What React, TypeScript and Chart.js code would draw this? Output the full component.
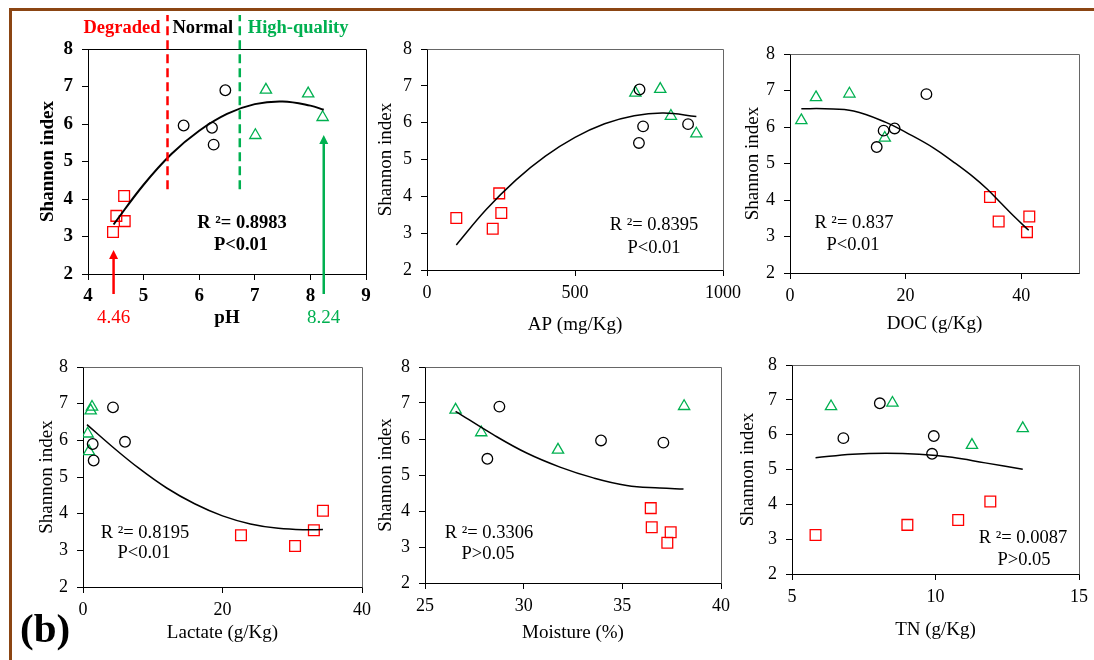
import React, { useEffect, useRef } from "react";
import { Chart, registerables } from "chart.js";

Chart.register(...registerables);

// ---------------- data ----------------
const shannonDegraded = [3.12, 3.41, 3.55, 4.08];
const shannonNormal = [5.45, 5.9, 5.96, 6.9];
const shannonHigh = [5.7, 6.18, 6.81, 6.91];

const phDegraded = [4.45, 4.66, 4.51, 4.65];
const phNormal = [6.26, 6.23, 5.72, 6.47];
const phHigh = [7.01, 8.22, 7.96, 7.2];
const phFitX = [4.46, 5.0, 5.5, 6.0, 6.5, 7.0, 7.5, 8.0, 8.24];
const phFitY = [3.32, 4.38, 5.2, 5.82, 6.27, 6.53, 6.6, 6.49, 6.38];

const apDegraded = [222, 99, 251, 244];
const apNormal = [716, 730, 882, 718];
const apHigh = [910, 824, 704, 788];
const apFitX = [99, 200, 300, 400, 500, 600, 700, 800, 910];
const apFitY = [2.68, 3.64, 4.44, 5.09, 5.6, 5.97, 6.19, 6.26, 6.17];

const docDegraded = [41.0, 36.1, 41.4, 34.6];
const docNormal = [15.0, 16.2, 18.1, 23.6];
const docHigh = [16.4, 1.96, 4.5, 10.28];
const docFitX = [1.96, 6, 11, 16.7, 20.2, 24.8, 28.3, 31.8, 34.1, 36.4, 38.7, 41.3];
const docFitY = [6.5, 6.5, 6.44, 6.12, 5.84, 5.43, 5.04, 4.62, 4.3, 3.93, 3.56, 3.17];

const lactateDegraded = [30.4, 22.65, 33.1, 34.4];
const lactateNormal = [1.53, 1.39, 6.02, 4.3];
const lactateHigh = [0.86, 0.67, 1.1, 1.29];
const lactateFitX = [0.57, 4, 8, 12, 16, 20, 24, 28, 32, 34.4];
const lactateFitY = [6.43, 5.86, 5.24, 4.7, 4.27, 3.94, 3.72, 3.6, 3.56, 3.57];

const moistureDegraded = [37.28, 37.45, 36.49, 36.44];
const moistureNormal = [28.16, 37.08, 33.92, 28.77];
const moistureHigh = [31.74, 27.85, 26.55, 38.13];
const moistureFitX = [26.55, 28.46, 30.15, 31.84, 33.53, 35.22, 36.9, 38.1];
const moistureFitY = [6.77, 6.12, 5.61, 5.22, 4.92, 4.71, 4.64, 4.61];

const tnDegraded = [5.82, 9.02, 10.79, 11.91];
const tnNormal = [9.88, 6.79, 9.94, 8.06];
const tnHigh = [11.27, 13.04, 6.36, 8.5];
const tnFitX = [5.82, 7.11, 8.27, 9.43, 10.58, 11.73, 13.04];
const tnFitY = [5.34, 5.44, 5.47, 5.44, 5.35, 5.19, 5.01];

const xTitles = ["pH", "AP (mg/Kg)", "DOC (g/Kg)", "Lactate (g/Kg)", "Moisture (%)", "TN (g/Kg)"];
const yTitle = "Shannon index";
const r2Labels = ["R \u00B2= 0.8983", "R \u00B2= 0.8395", "R \u00B2= 0.837", "R \u00B2= 0.8195", "R \u00B2= 0.3306", "R \u00B2= 0.0087"];
const pLabels = ["P<0.01", "P<0.01", "P<0.01", "P<0.01", "P>0.05", "P>0.05"];
const xMins = [4, 0, 0, 0, 25, 5];
const xMaxs = [9, 1000, 50, 40, 40, 15];
const xSteps = [1, 500, 20, 20, 5, 5];
const yMin = 2;
const yMax = 8;
const yStep = 1;

const zoneLabels = ["Degraded", "Normal", "High-quality"];
const phThresholds = [5.43, 6.73];
const phThresholdBottom = 4.26;
const phArrowValues = [4.46, 8.24];
const phArrowLabels = ["4.46", "8.24"];
const phArrowTips = [2.64, 5.71];
const panelTag = "(b)";

// ---------------- styles / layout ----------------
const SERIF = '"Liberation Serif", "Times New Roman", Times, serif';
const RED = "#FF0000";
const GREEN = "#00B050";
const BROWN = "#8B4513";

type Rect = { l: number; t: number; r: number; b: number };
type PanelCfg = {
  idx: number;
  deg: number[];
  nor: number[];
  high: number[];
  fitX: number[];
  fitY: number[];
  rect: Rect;
  yTitleX: number;
  xTitleY: number;
  r2At: [number, number];
  pAt: [number, number];
  bold: boolean;
  frame: string;
  fitWidth: number;
};

const panels: PanelCfg[] = [
  { idx: 0, deg: phDegraded, nor: phNormal, high: phHigh, fitX: phFitX, fitY: phFitY,
    rect: { l: 88, t: 49, r: 366, b: 274 }, yTitleX: 47.7, xTitleY: 318, r2At: [154, 174], pAt: [153, 196],
    bold: true, frame: "#000", fitWidth: 2 },
  { idx: 1, deg: apDegraded, nor: apNormal, high: apHigh, fitX: apFitX, fitY: apFitY,
    rect: { l: 427, t: 49, r: 723, b: 270 }, yTitleX: 386, xTitleY: 325, r2At: [227, 176], pAt: [227, 199],
    bold: false, frame: "#666", fitWidth: 1.5 },
  { idx: 2, deg: docDegraded, nor: docNormal, high: docHigh, fitX: docFitX, fitY: docFitY,
    rect: { l: 790, t: 54, r: 1079, b: 273 }, yTitleX: 753.3, xTitleY: 324, r2At: [64, 169], pAt: [63, 191],
    bold: false, frame: "#666", fitWidth: 1.5 },
  { idx: 3, deg: lactateDegraded, nor: lactateNormal, high: lactateHigh, fitX: lactateFitX, fitY: lactateFitY,
    rect: { l: 83, t: 367, r: 362, b: 587 }, yTitleX: 46.7, xTitleY: 633, r2At: [62, 166], pAt: [61, 186],
    bold: false, frame: "#666", fitWidth: 1.5 },
  { idx: 4, deg: moistureDegraded, nor: moistureNormal, high: moistureHigh, fitX: moistureFitX, fitY: moistureFitY,
    rect: { l: 425, t: 367, r: 721, b: 583 }, yTitleX: 386, xTitleY: 632.7, r2At: [64, 166], pAt: [63, 187],
    bold: false, frame: "#666", fitWidth: 1.5 },
  { idx: 5, deg: tnDegraded, nor: tnNormal, high: tnHigh, fitX: tnFitX, fitY: tnFitY,
    rect: { l: 792, t: 365, r: 1081, b: 574 }, yTitleX: 748.3, xTitleY: 630, r2At: [231, 173], pAt: [232, 195],
    bold: false, frame: "#666", fitWidth: 1.5 },
];

function pts(xs: number[], ys: number[]) {
  return xs.map((x, i) => ({ x, y: ys[i] }));
}

function PanelChart({ p }: { p: PanelCfg }) {
  const ref = useRef<HTMLCanvasElement | null>(null);
  const titleSize = 19;
  const tickSize = p.bold ? 19 : 18;
  const lhT = titleSize * 1.2;
  const cl = Math.floor(p.yTitleX - lhT / 2) - 4;
  const ct = p.idx === 0 ? 0 : p.rect.t - 20;
  const cr = Math.min(p.rect.r + 25, 1094);
  const cb = Math.ceil(p.xTitleY + lhT / 2) + 4;
  const w = cr - cl;
  const h = cb - ct;
  const padL = p.yTitleX - lhT / 2 - cl;
  const yW = p.rect.l - cl - padL;
  const padT = p.rect.t - ct;
  const padR = cr - p.rect.r;
  const xH = p.xTitleY + lhT / 2 - p.rect.b;
  const padB = cb - (p.xTitleY + lhT / 2);

  useEffect(() => {
    if (!ref.current) return;
    const weight = p.bold ? "bold" : "normal";
    const tickFont = { family: SERIF, size: tickSize, weight: weight as any };
    const titleFont = { family: SERIF, size: titleSize, weight: weight as any };

    const decor = {
      id: "decor" + p.idx,
      beforeDatasetsDraw(chart: any) {
        const { left, top, right, bottom } = chart.chartArea;
        const a = (v: number) => Math.round(v - 0.5) + 0.5;
        const ctx = chart.ctx;
        ctx.save();
        ctx.strokeStyle = p.frame;
        ctx.lineWidth = 1;
        ctx.beginPath();
        ctx.moveTo(a(left), a(top));
        ctx.lineTo(a(right), a(top));
        ctx.lineTo(a(right), a(bottom));
        ctx.stroke();
        ctx.restore();
      },
      afterDraw(chart: any) {
        const { left, top, bottom } = chart.chartArea;
        const ctx = chart.ctx;
        const xs = chart.scales.x;
        const ys = chart.scales.y;
        ctx.save();
        ctx.fillStyle = "#000";
        ctx.textAlign = "center";
        ctx.textBaseline = "middle";
        ctx.font = `${weight} 18.5px ${SERIF}`;
        ctx.fillText(r2Labels[p.idx], left + p.r2At[0], top + p.r2At[1]);
        ctx.fillText(pLabels[p.idx], left + p.pAt[0], top + p.pAt[1]);

        if (p.idx === 0) {
          const colors = [RED, GREEN];
          phThresholds.forEach((v, i) => {
            const px = xs.getPixelForValue(v);
            ctx.beginPath();
            ctx.setLineDash([9, 5]);
            ctx.lineWidth = 2.5;
            ctx.strokeStyle = colors[i];
            ctx.moveTo(px, ys.getPixelForValue(phThresholdBottom));
            ctx.lineTo(px, top - 34);
            ctx.stroke();
          });
          ctx.setLineDash([]);
          const x0 = xs.getPixelForValue(phThresholds[0]);
          const x1 = xs.getPixelForValue(phThresholds[1]);
          ctx.font = `bold 18.5px ${SERIF}`;
          ctx.textAlign = "right";
          ctx.fillStyle = RED;
          ctx.fillText(zoneLabels[0], x0 - 7, top - 21);
          ctx.textAlign = "left";
          ctx.fillStyle = "#000";
          ctx.fillText(zoneLabels[1], x0 + 5, top - 21);
          ctx.fillStyle = GREEN;
          ctx.fillText(zoneLabels[2], x1 + 8, top - 21);
          phArrowValues.forEach((v, i) => {
            const px = xs.getPixelForValue(v);
            const tip = ys.getPixelForValue(phArrowTips[i]);
            const base = bottom + 20;
            ctx.strokeStyle = colors[i];
            ctx.fillStyle = colors[i];
            ctx.lineWidth = 2.5;
            ctx.beginPath();
            ctx.moveTo(px, base);
            ctx.lineTo(px, tip + 6);
            ctx.stroke();
            ctx.beginPath();
            ctx.moveTo(px, tip);
            ctx.lineTo(px - 4.5, tip + 9);
            ctx.lineTo(px + 4.5, tip + 9);
            ctx.closePath();
            ctx.fill();
            ctx.font = `normal 19px ${SERIF}`;
            ctx.textAlign = "center";
            ctx.fillText(phArrowLabels[i], px, bottom + 44);
          });
        }
        ctx.restore();
      },
    };

    const chart = new Chart(ref.current, {
      type: "scatter",
      data: {
        datasets: [
          {
            label: "fit",
            data: pts(p.fitX, p.fitY),
            showLine: true,
            pointRadius: 0,
            borderColor: "#000",
            borderWidth: p.fitWidth,
            tension: 0.4,
            fill: false,
          } as any,
          {
            label: "Degraded",
            data: pts(p.deg, shannonDegraded),
            pointStyle: "rect",
            pointRadius: 7.6,
            borderColor: RED,
            backgroundColor: "rgba(0,0,0,0)",
            borderWidth: 1.3,
          },
          {
            label: "Normal",
            data: pts(p.nor, shannonNormal),
            pointStyle: "circle",
            pointRadius: 5.3,
            borderColor: "#000",
            backgroundColor: "rgba(0,0,0,0)",
            borderWidth: 1.3,
          },
          {
            label: "High-quality",
            data: pts(p.high, shannonHigh),
            pointStyle: "triangle",
            pointRadius: 6.5,
            borderColor: GREEN,
            backgroundColor: "rgba(0,0,0,0)",
            borderWidth: 1.3,
          },
        ],
      },
      options: {
        animation: false,
        responsive: false,
        maintainAspectRatio: false,
        devicePixelRatio: 1,
        events: [],
        layout: { padding: { left: padL, top: padT, right: padR, bottom: padB } },
        plugins: { legend: { display: false }, tooltip: { enabled: false } },
        scales: {
          x: {
            type: "linear",
            min: xMins[p.idx],
            max: xMaxs[p.idx],
            ticks: {
              stepSize: xSteps[p.idx],
              includeBounds: false,
              color: "#000",
              font: tickFont,
              padding: p.bold ? 5 : 6,
              maxRotation: 0,
              autoSkip: false,
              callback: (v: any) => String(v),
            },
            grid: { display: true, drawOnChartArea: false, drawTicks: true, tickLength: 6, color: "#000", lineWidth: 1 },
            border: { display: true, color: "#000", width: 1 },
            title: { display: true, text: xTitles[p.idx], font: titleFont, color: "#000", padding: 0 },
            afterFit: (s: any) => {
              s.height = xH;
            },
          },
          y: {
            type: "linear",
            min: yMin,
            max: yMax,
            ticks: {
              stepSize: yStep,
              color: "#000",
              font: tickFont,
              padding: 9,
              callback: (v: any) => String(v),
            },
            grid: { display: true, drawOnChartArea: false, drawTicks: true, tickLength: 6, color: "#000", lineWidth: 1 },
            border: { display: true, color: "#000", width: 1 },
            title: { display: true, text: yTitle, font: titleFont, color: "#000", padding: 0 },
            afterFit: (s: any) => {
              s.width = yW;
            },
          },
        },
      },
      plugins: [decor],
    } as any);
    return () => chart.destroy();
  }, []);

  return (
    <canvas
      ref={ref}
      width={w}
      height={h}
      style={{ position: "absolute", left: cl, top: ct, width: w, height: h }}
    />
  );
}

export default function App() {
  return (
    <div
      style={{
        position: "absolute",
        left: 0,
        top: 0,
        width: 1094,
        height: 660,
        overflow: "hidden",
        background: "#fff",
      }}
    >
      <div style={{ position: "absolute", left: 9, top: 8, width: 1085, height: 3, background: BROWN }} />
      <div style={{ position: "absolute", left: 9, top: 8, width: 3, height: 652, background: BROWN }} />
      {panels.map((p) => (
        <PanelChart key={p.idx} p={p} />
      ))}
      <div
        style={{
          position: "absolute",
          left: 20,
          top: 608,
          font: `bold 41px ${SERIF}`,
          lineHeight: "41px",
          color: "#000",
          whiteSpace: "nowrap",
        }}
      >
        {panelTag}
      </div>
    </div>
  );
}
